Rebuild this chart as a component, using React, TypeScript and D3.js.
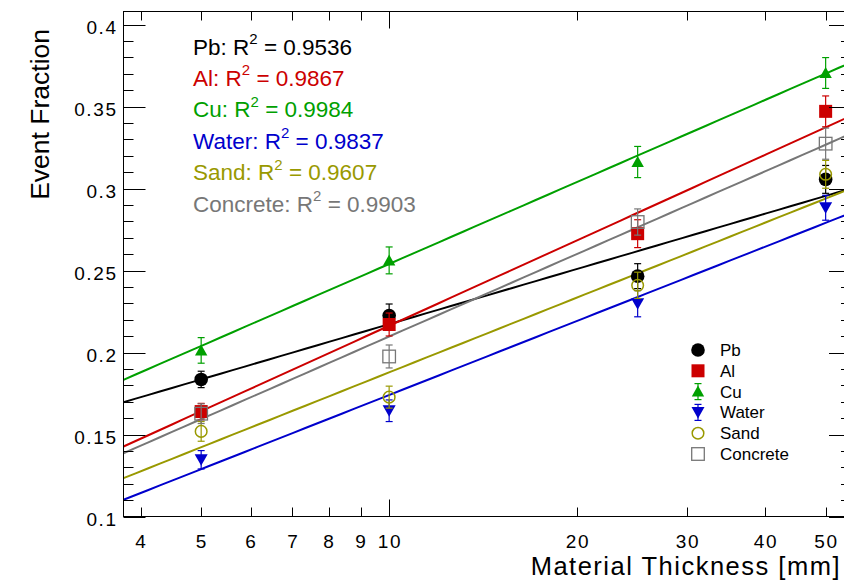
import React from "react";
import * as d3 from "d3";

// Absorber thickness in mm, one measurement per thickness
const thickness = [5, 10, 25, 50];

const materials = ["Pb", "Al", "Cu", "Water", "Sand", "Concrete"];
const colors = ["#000000", "#cc0000", "#00a000", "#0000cc", "#999900", "#777777"];
const markers = ["circle", "square", "triUp", "triDown", "openCircle", "openSquare"];

// Measured event fractions
const pbValues = [0.1836, 0.2226, 0.2466, 0.3056];
const alValues = [0.164, 0.2171, 0.2725, 0.3471];
const cuValues = [0.2013, 0.2562, 0.3162, 0.3705];
const waterValues = [0.1346, 0.1645, 0.2298, 0.2883];
const sandValues = [0.1519, 0.1728, 0.241, 0.3087];
const concreteValues = [0.1627, 0.1976, 0.2796, 0.3274];

// Statistical uncertainties
const pbErrors = [0.005, 0.007, 0.0076, 0.0085];
const alErrors = [0.005, 0.007, 0.0085, 0.0094];
const cuErrors = [0.0078, 0.0082, 0.0095, 0.0094];
const waterErrors = [0.0056, 0.0066, 0.008, 0.0076];
const sandErrors = [0.006, 0.0067, 0.008, 0.0085];
const concreteErrors = [0.006, 0.007, 0.008, 0.0095];

// Fit y = a + b * ln(x)
const fitIntercepts = [0.1054, 0.0432, 0.0879, 0.0239, 0.03626, 0.04245];
const fitSlopes = [0.0486, 0.07519, 0.07215, 0.06523, 0.06586, 0.07267];
const rSquared = ["0.9536", "0.9867", "0.9984", "0.9837", "0.9607", "0.9903"];

const values = [pbValues, alValues, cuValues, waterValues, sandValues, concreteValues];
const errors = [pbErrors, alErrors, cuErrors, waterErrors, sandErrors, concreteErrors];

const xTicks = [4, 5, 6, 7, 8, 9, 10, 20, 30, 40, 50];
const xMajorTicks = [10];
const yMajorTicks = [0.1, 0.15, 0.2, 0.25, 0.3, 0.35, 0.4];
const yMinorTicks = d3.range(10, 41).map((v) => v / 100);

const W = 844;
const H = 580;
const left = 123.5;
const right = 851;
const top = 11.5;
const bottom = 516.5;
const xMin = 3.755;
const xMax = 54.9;

const FONT = "'Liberation Sans', Arial, Helvetica, sans-serif";

const x = d3.scaleLog().domain([xMin, xMax]).range([left, right]);
const y = d3.scaleLinear().domain([0.1, 0.408]).range([bottom, top]);

function Marker({ kind, cx, cy, color }: { kind: string; cx: number; cy: number; color: string }) {
  switch (kind) {
    case "circle":
      return <circle cx={cx} cy={cy} r={6.8} fill={color} />;
    case "square":
      return <rect x={cx - 6.5} y={cy - 6.5} width={13} height={13} fill={color} />;
    case "triUp":
      return (
        <path
          d={`M${cx},${cy - 6} L${cx + 6.2},${cy + 5} L${cx - 6.2},${cy + 5} Z`}
          fill={color}
        />
      );
    case "triDown":
      return (
        <path
          d={`M${cx},${cy + 6} L${cx + 6.5},${cy - 5.5} L${cx - 6.5},${cy - 5.5} Z`}
          fill={color}
        />
      );
    case "openCircle":
      return <circle cx={cx} cy={cy} r={5.8} fill="none" stroke={color} strokeWidth={1.5} />;
    case "openSquare":
      return (
        <rect
          x={cx - 6.3}
          y={cy - 6.3}
          width={12.6}
          height={12.6}
          fill="none"
          stroke={color}
          strokeWidth={1.3}
        />
      );
    default:
      return null;
  }
}

function ErrorBar({ cx, y0, y1, color }: { cx: number; y0: number; y1: number; color: string }) {
  return (
    <g stroke={color} strokeWidth={1.2}>
      <line x1={cx} x2={cx} y1={y0} y2={y1} />
      <line x1={cx - 3.5} x2={cx + 3.5} y1={y0} y2={y0} />
      <line x1={cx - 3.5} x2={cx + 3.5} y1={y1} y2={y1} />
    </g>
  );
}

export default function App() {
  const fitXs = d3.range(0, 61).map((i) => xMin * Math.pow(xMax / xMin, i / 60));

  return (
    <svg
      width={W}
      height={H}
      viewBox={`0 0 ${W} ${H}`}
      style={{ position: "absolute", left: 0, top: 0, background: "#ffffff" }}
      fontFamily={FONT}
    >
      <rect x={0} y={0} width={W} height={H} fill="#ffffff" />
      <defs>
        <clipPath id="plotClip">
          <rect x={left} y={top} width={right - left} height={bottom - top} />
        </clipPath>
      </defs>

      {/* fitted curves */}
      <g clipPath="url(#plotClip)" fill="none" strokeWidth={2}>
        {materials.map((m, k) => {
          const path = d3
            .line<number>()
            .x((d) => x(d))
            .y((d) => y(fitIntercepts[k] + fitSlopes[k] * Math.log(d)))(fitXs);
          return <path key={m} d={path || ""} stroke={colors[k]} />;
        })}
      </g>

      {/* measurements with error bars */}
      <g>
        {materials.map((m, k) => (
          <g key={m}>
            {thickness.map((t, i) => {
              const v = values[k][i];
              const e = errors[k][i];
              return (
                <g key={t}>
                  <ErrorBar cx={x(t)} y0={y(v + e)} y1={y(v - e)} color={colors[k]} />
                  <Marker kind={markers[k]} cx={x(t)} cy={y(v)} color={colors[k]} />
                </g>
              );
            })}
          </g>
        ))}
      </g>

      {/* frame */}
      <rect x={left} y={top} width={right - left} height={bottom - top} fill="none" stroke="#000" strokeWidth={1} />

      {/* y axis ticks, left and right */}
      <g stroke="#000" strokeWidth={1}>
        {yMinorTicks.map((v) => {
          const major = yMajorTicks.some((m) => Math.abs(m - v) < 1e-9);
          const len = major ? 22 : 10;
          const yy = Math.round(y(v)) + 0.5;
          return (
            <g key={v}>
              <line x1={left} x2={left + len} y1={yy} y2={yy} />
              <line x1={right} x2={right - len} y1={yy} y2={yy} />
            </g>
          );
        })}
      </g>
      <g fontSize={19} letterSpacing={1.6} textAnchor="end" fill="#000">
        {yMajorTicks.map((v) => (
          <text key={v} x={117.6} y={y(v) + 9}>
            {String(+v.toFixed(2))}
          </text>
        ))}
      </g>

      {/* x axis ticks, bottom and top */}
      <g stroke="#000" strokeWidth={1}>
        {xTicks.map((t) => {
          const len = xMajorTicks.includes(t) ? 17 : 9;
          const xx = Math.round(x(t)) + 0.5;
          return (
            <g key={t}>
              <line x1={xx} x2={xx} y1={bottom} y2={bottom - len} />
              <line x1={xx} x2={xx} y1={top} y2={top + len} />
            </g>
          );
        })}
      </g>
      <g fontSize={19} letterSpacing={1.6} textAnchor="middle" fill="#000">
        {xTicks.map((t) => (
          <text key={t} x={x(t) + 0.8} y={547.5}>
            {t}
          </text>
        ))}
      </g>

      {/* axis titles */}
      <text x={841} y={574.8} fontSize={25.5} letterSpacing={1.5} textAnchor="end" fill="#000">
        Material Thickness [mm]
      </text>
      <text transform="translate(48.5,29) rotate(-90)" fontSize={26.5} textAnchor="end" fill="#000">
        Event Fraction
      </text>

      {/* goodness-of-fit annotations */}
      <g fontSize={22.5}>
        {materials.map((m, k) => (
          <text key={m} x={193} y={54.5 + k * 31.45} fill={colors[k]}>
            {m}: R
            <tspan dy={-10.5} fontSize={15}>
              2
            </tspan>
            <tspan dy={10.5}> = {rSquared[k]}</tspan>
          </text>
        ))}
      </g>

      {/* legend */}
      <g>
        {materials.map((m, k) => {
          const cy = 350 + k * 20.8;
          const tri = markers[k] === "triUp" || markers[k] === "triDown";
          return (
            <g key={m}>
              {tri && <ErrorBar cx={698} y0={cy - 8} y1={cy + 8} color={colors[k]} />}
              <Marker kind={markers[k]} cx={698} cy={cy} color={colors[k]} />
              <text x={720} y={cy + 6} fontSize={17} fill="#000">
                {m}
              </text>
            </g>
          );
        })}
      </g>
    </svg>
  );
}
